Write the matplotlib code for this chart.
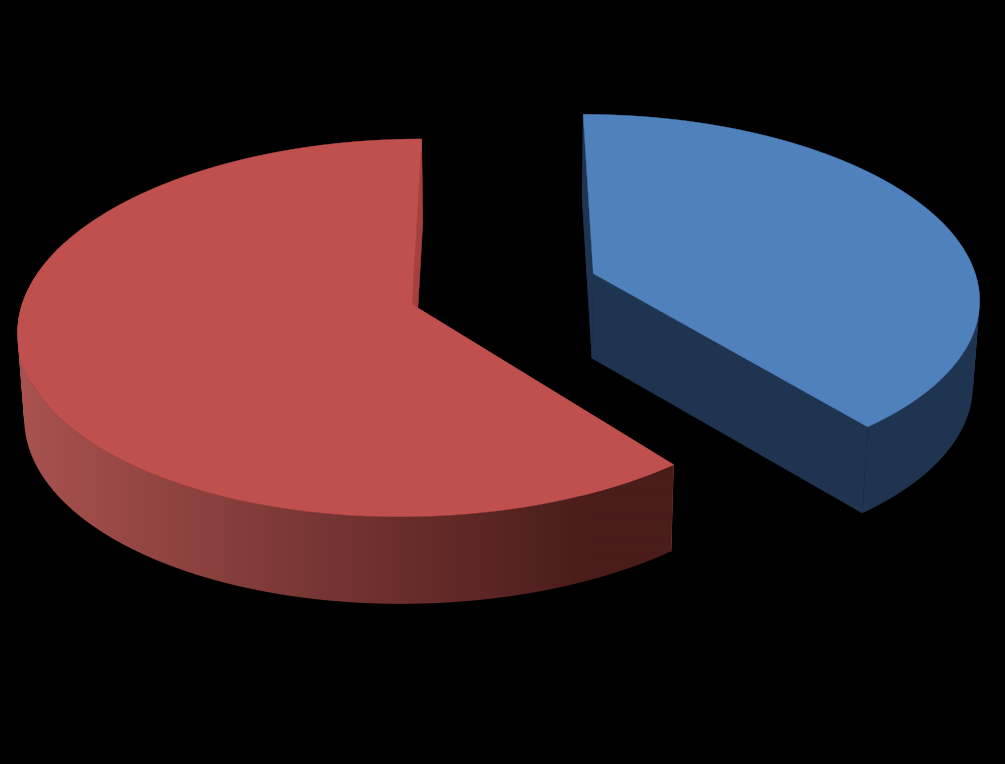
#!/usr/bin/env python3
"""Exploded 3D pie on black, projected by hand since mplot3d gives no control over the perspective."""

import matplotlib
matplotlib.use("Agg")
import matplotlib.pyplot as plt
import numpy as np
from matplotlib.colors import to_rgb
from matplotlib.patches import PathPatch, Polygon
from matplotlib.path import Path

# shares, clockwise from twelve o'clock
SERIES = ["blue", "red"]
SHARES = [39.2, 60.8]

TOP_COLORS = {"blue": "#4f81bd", "red": "#c0504d"}
WALL_LEFT = {"blue": "#1f3450", "red": "#a9524f"}
WALL_RIGHT = {"blue": "#1f3450", "red": "#4a1c1a"}
FACE_COLORS = {"blue": "#1f3450", "red": "#a6403e"}

# apex of each slice on the reference plane (x, depth)
APEX = {"blue": (595.2, 0.17), "red": (412.0, 0.0)}

# camera
RADIUS = 390.0
VANISH_X = 500.0
HORIZON_Y = -1200.5
CAM_H = 1505.0
PERSP = 0.1236
SHRINK = 0.014


def project(x, depth):
    s = 1.0 / (1.0 + PERSP * depth)
    return VANISH_X + (x - VANISH_X) * s, HORIZON_Y + CAM_H * s, s


def drop(px, py, s):
    # same point on the underside of the pie
    return px + (VANISH_X - px) * SHRINK, py + 70.0 + 15.0 * s


def wall_gradient(name):
    # horizontal ramp over the whole canvas, clipped to the wall later
    t = np.clip((np.arange(1005) - 20) / 570, 0, 1)[None, :, None]
    c0 = np.array(to_rgb(WALL_LEFT[name]))
    c1 = np.array(to_rgb(WALL_RIGHT[name]))
    return (1 - t) * c0 + t * c1


def wall_path(px, py, bx, by):
    # one quad per step, all wound the same way: the wall folds over itself
    # at the left and right silhouette and a single outline would leave holes
    verts, codes = [], []
    for i in range(len(px) - 1):
        quad = [(px[i], py[i]), (px[i + 1], py[i + 1]),
                (bx[i + 1], by[i + 1]), (bx[i], by[i])]
        xs, ys = zip(*quad)
        area = sum(xs[k] * ys[(k + 1) % 4] - xs[(k + 1) % 4] * ys[k] for k in range(4))
        if area < 0:
            quad = quad[::-1]
        verts += quad + [quad[0]]
        codes += [Path.MOVETO, Path.LINETO, Path.LINETO, Path.LINETO, Path.CLOSEPOLY]
    return Path(verts, codes)


def draw_slice(ax, name, start, sweep):
    ax0, d0 = APEX[name]
    ang = np.radians(np.linspace(start, start + sweep, 400))
    px, py, s = project(ax0 + RADIUS * np.sin(ang), d0 + np.cos(ang))
    bx, by = drop(px, py, s)
    apx, apy, aps = project(ax0, d0)
    abx, aby = drop(apx, apy, aps)

    # straight cut faces, the hidden ones end up under the top surface
    for i in (0, -1):
        face = [(apx, apy), (px[i], py[i]), (bx[i], by[i]), (abx, aby)]
        ax.add_patch(Polygon(face, closed=True, fc=FACE_COLORS[name],
                             ec=FACE_COLORS[name], lw=0.4, zorder=1))

    # outer wall, only the part that faces the camera
    front = np.cos(ang) < 0.35
    im = ax.imshow(wall_gradient(name), extent=(0, 1005, 764, 0), aspect="auto",
                   interpolation="bilinear", zorder=2)
    clip = PathPatch(wall_path(px[front], py[front], bx[front], by[front]),
                     transform=ax.transData)
    im.set_clip_path(clip)

    top = np.column_stack([np.r_[apx, px], np.r_[apy, py]])
    ax.add_patch(Polygon(top, closed=True, fc=TOP_COLORS[name],
                         ec=TOP_COLORS[name], lw=0.3, zorder=3))


def main():
    fig = plt.figure(figsize=(10.05, 7.64), dpi=100, facecolor="black")
    ax = fig.add_axes([0, 0, 1, 1])
    ax.axis("off")

    total = sum(SHARES)
    start = 0.0
    for name, share in zip(SERIES, SHARES):
        sweep = 360.0 * share / total
        draw_slice(ax, name, start, sweep)
        start += sweep

    ax.set_xlim(0, 1005)
    ax.set_ylim(764, 0)
    fig.savefig("out.png", dpi=100, facecolor="black")
    plt.close(fig)


if __name__ == "__main__":
    main()
